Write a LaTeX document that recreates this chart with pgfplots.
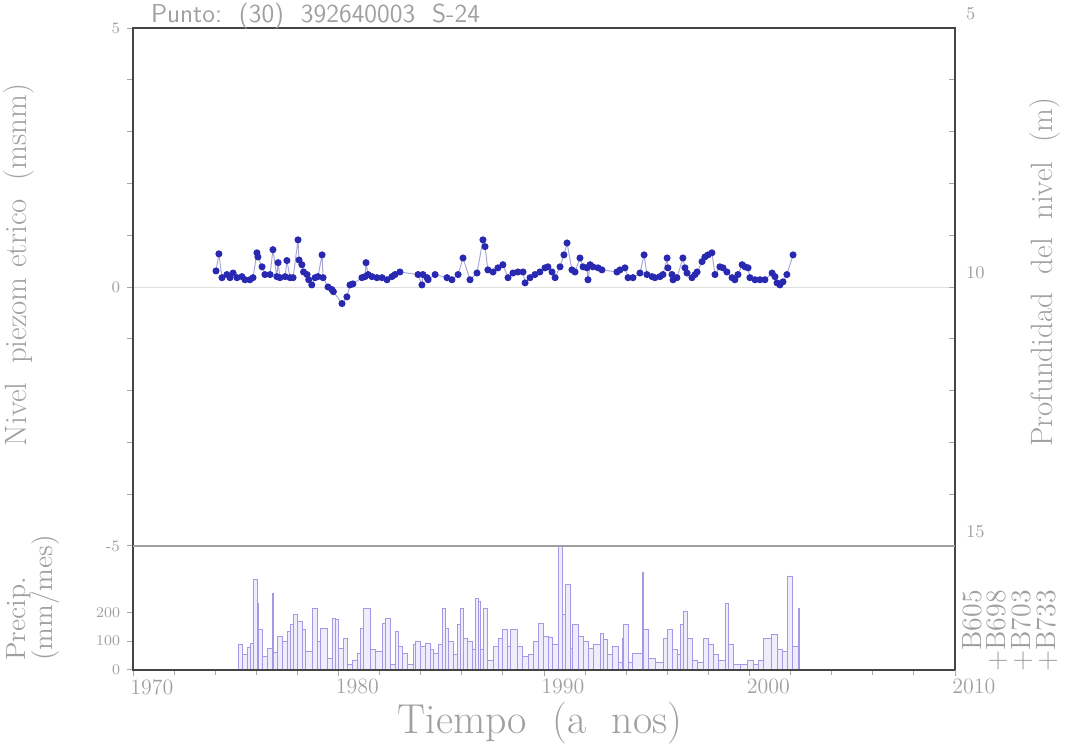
\documentclass[border=0pt]{standalone}
\usepackage{fontspec}
\usepackage{pgfplots}
\usepackage{pgfplotstable}
\pgfplotsset{compat=1.18}
\definecolor{framec}{HTML}{454545}
\definecolor{txt}{HTML}{A0A0A0}
\definecolor{dot}{HTML}{2828B0}
\definecolor{lnk}{HTML}{A8A8D8}
\definecolor{rain}{HTML}{9A8EE4}

\pgfplotstableread{
year lvl
1974.04 0.31
1974.18 0.64
1974.33 0.18
1974.57 0.24
1974.72 0.18
1974.87 0.27
1975.06 0.18
1975.30 0.20
1975.45 0.14
1975.69 0.14
1975.84 0.18
1976.03 0.66
1976.08 0.58
1976.28 0.39
1976.42 0.24
1976.67 0.24
1976.81 0.72
1977.00 0.20
1977.06 0.47
1977.15 0.18
1977.40 0.20
1977.49 0.51
1977.64 0.18
1977.79 0.18
1978.03 0.91
1978.08 0.52
1978.22 0.43
1978.30 0.29
1978.47 0.24
1978.55 0.14
1978.70 0.04
1978.86 0.18
1979.00 0.20
1979.20 0.62
1979.25 0.18
1979.49 0.00
1979.68 -0.05
1979.75 -0.09
1980.17 -0.32
1980.41 -0.19
1980.56 0.04
1980.70 0.06
1981.14 0.18
1981.29 0.20
1981.34 0.47
1981.44 0.24
1981.63 0.20
1981.87 0.18
1982.12 0.18
1982.36 0.14
1982.60 0.20
1982.75 0.24
1982.99 0.29
1983.87 0.24
1984.06 0.04
1984.11 0.24
1984.31 0.18
1984.36 0.14
1984.70 0.24
1985.28 0.18
1985.52 0.14
1985.82 0.24
1986.06 0.56
1986.40 0.14
1986.74 0.27
1987.03 0.91
1987.13 0.78
1987.27 0.33
1987.52 0.29
1987.76 0.37
1988.00 0.43
1988.25 0.18
1988.49 0.27
1988.73 0.29
1988.98 0.29
1989.08 0.08
1989.32 0.18
1989.56 0.24
1989.80 0.29
1990.05 0.37
1990.19 0.39
1990.39 0.29
1990.54 0.18
1990.78 0.39
1990.97 0.62
1991.12 0.85
1991.36 0.33
1991.51 0.29
1991.75 0.56
1991.90 0.39
1992.09 0.37
1992.14 0.14
1992.24 0.43
1992.38 0.39
1992.63 0.37
1992.82 0.33
1993.55 0.29
1993.70 0.33
1993.94 0.37
1994.09 0.18
1994.33 0.18
1994.67 0.27
1994.87 0.62
1995.01 0.24
1995.26 0.20
1995.40 0.18
1995.64 0.20
1995.79 0.24
1995.99 0.56
1996.03 0.37
1996.23 0.24
1996.28 0.14
1996.47 0.18
1996.76 0.56
1996.86 0.37
1996.96 0.27
1997.20 0.18
1997.35 0.24
1997.45 0.29
1997.69 0.49
1997.83 0.58
1997.98 0.62
1998.17 0.66
1998.32 0.24
1998.56 0.39
1998.71 0.37
1998.90 0.29
1999.15 0.18
1999.29 0.14
1999.44 0.24
1999.64 0.43
1999.78 0.39
1999.93 0.37
2000.02 0.18
2000.27 0.14
2000.51 0.14
2000.75 0.14
2001.10 0.27
2001.24 0.20
2001.34 0.08
2001.48 0.04
2001.63 0.10
2001.82 0.24
2002.12 0.62
}\levels

\pgfplotstableread{
year mm
1975.11 88
1975.30 53
1975.55 80
1975.69 91
1975.84 315
1976.03 232
1976.08 140
1976.28 46
1976.52 74
1976.76 267
1976.81 60
1977.01 116
1977.25 98
1977.49 133
1977.64 158
1977.79 193
1977.98 168
1978.22 140
1978.37 63
1978.71 214
1978.95 98
1979.10 144
1979.44 39
1979.68 179
1979.83 175
1979.98 74
1980.22 109
1980.41 21
1980.66 35
1980.90 56
1981.05 144
1981.19 214
1981.53 70
1981.78 63
1982.12 161
1982.26 179
1982.51 18
1982.75 133
1982.90 81
1983.09 56
1983.33 21
1983.63 88
1983.72 98
1983.97 81
1984.21 91
1984.45 70
1984.60 56
1984.84 88
1985.04 214
1985.18 144
1985.33 98
1985.57 53
1985.77 158
1985.91 214
1986.06 109
1986.25 98
1986.50 70
1986.64 249
1986.79 239
1986.89 70
1987.03 214
1987.27 35
1987.52 81
1987.76 109
1987.96 140
1988.20 81
1988.35 140
1988.69 81
1988.93 46
1989.22 53
1989.46 98
1989.71 161
1989.95 116
1990.19 112
1990.39 88
1990.68 428
1990.88 193
1991.02 298
1991.27 74
1991.36 158
1991.65 116
1991.90 98
1992.14 74
1992.38 88
1992.73 126
1992.87 105
1993.07 53
1993.31 81
1993.60 28
1993.80 109
1993.84 158
1994.09 28
1994.28 56
1994.77 337
1994.82 140
1995.06 39
1995.40 28
1995.79 109
1995.99 140
1996.23 70
1996.47 53
1996.62 158
1996.76 203
1996.96 109
1997.20 35
1997.45 28
1997.74 109
1997.98 88
1998.22 53
1998.47 35
1998.81 232
1998.95 88
1999.20 21
1999.54 18
1999.88 35
2000.17 21
2000.41 35
2000.66 109
2001.09 123
2001.34 70
2001.58 63
2001.82 326
2002.07 81
2002.36 214
2002.45 0
}\rain

\begin{document}
\begin{tikzpicture}
\useasboundingbox (0bp,0bp) rectangle (535bp,376bp);

% ---------- upper panel: level ----------
\begin{axis}[at={(66.5bp,103bp)}, anchor=south west, scale only axis,
  width=411bp, height=259bp,
  xmin=1970, xmax=2010, ymin=-5, ymax=5,
  axis line style={draw=none},
  xtick=\empty,
  ytick={-5,0,5}, minor ytick={-4,-3,-2,-1,1,2,3,4},
  ytick pos=left, tick align=outside,
  major tick length=3bp, minor tick length=3bp,
  every tick/.style={draw=gray!70, line width=0.5bp},
  /pgf/number format/assume math mode=true,
  yticklabel style={font=\fontsize{8}{9}\selectfont, text=txt},
  clip=false]
  \draw[gray!25, line width=0.5bp] (axis cs:1970,0) -- (axis cs:2010,0);
  \addplot[color=lnk, line width=0.5bp, mark=*, mark size=1.5bp,
    mark options={draw=dot, fill=dot}] table[x=year, y=lvl] {\levels};
\end{axis}

% ---------- right axis: depth ----------
\begin{axis}[at={(66.5bp,103bp)}, anchor=south west, scale only axis,
  width=411bp, height=259bp,
  xmin=1970, xmax=2010, ymin=5, ymax=15, y dir=reverse,
  axis x line=none, axis y line*=right,
  axis line style={draw=none},
  ytick={5,10,15}, minor ytick={6,7,8,9,11,12,13,14},
  tick align=inside,
  major tick length=3bp, minor tick length=3bp,
  every tick/.style={draw=gray!70, line width=0.5bp},
  /pgf/number format/assume math mode=true,
  yticklabel style={font=\fontsize{9}{10}\selectfont, text=txt, yshift=7bp, xshift=2bp}]
  \addplot[draw=none] coordinates {(1970,10)};
\end{axis}

% ---------- lower panel: precipitation ----------
\begin{axis}[at={(66.5bp,41bp)}, anchor=south west, scale only axis,
  width=411bp, height=62bp,
  xmin=1970, xmax=2010, ymin=0, ymax=430,
  axis line style={draw=none},
  xtick={1970,1980,1990,2000,2010},
  minor xtick={1972,1974,1976,1978,1982,1984,1986,1988,1992,1994,1996,1998,2002,2004,2006,2008},
  ytick={0,100,200},
  tick pos=left, tick align=outside,
  major tick length=3bp, minor tick length=2.5bp,
  every tick/.style={draw=gray!70, line width=0.5bp},
  /pgf/number format/assume math mode=true,
  /pgf/number format/1000 sep={},
  xticklabel style={font=\fontsize{11}{12}\selectfont, text=txt, anchor=north west, xshift=-3bp, inner sep=1.5bp},
  yticklabel style={font=\fontsize{7.5}{8}\selectfont, text=txt},
  clip=false]
  \addplot[ybar interval, draw=rain!90, fill=rain!16, line width=0.4bp]
    table[x=year, y=mm] {\rain};
\end{axis}

% ---------- frame ----------
\draw[framec, line width=1.1bp] (66.5bp,103bp) -- (66.5bp,362bp) -- (477.5bp,362bp) -- (477.5bp,41bp);
\draw[framec, line width=1.1bp] (66.5bp,103bp) -- (66.5bp,41bp) -- (477.5bp,41bp);
\draw[gray!75, line width=0.7bp] (66.5bp,103bp) -- (477.5bp,103bp);

% ---------- texts ----------
\node[anchor=west, text=txt, font=\sffamily\fontsize{13}{14}\selectfont] at (72bp,368bp) {Punto:\ \ (30)\ \ 392640003\ \ S-24};
\node[rotate=90, text=txt, font=\fontsize{15.5}{17}\selectfont] at (9.5bp,243.5bp) {Nivel\ \ piezom\ etrico\ \ (msnm)};
\node[rotate=90, anchor=west, text=txt, font=\fontsize{14}{16}\selectfont] at (9.5bp,42bp) {Precip.};
\node[rotate=90, anchor=west, text=txt, font=\fontsize{14}{16}\selectfont] at (23bp,42bp) {(mm/mes)};
\node[rotate=90, text=txt, font=\fontsize{15.5}{17}\selectfont] at (522.5bp,240bp) {Profundidad\ \ del\ \ nivel\ \ (m)};
\node[text=txt, inner sep=0pt, font=\fontsize{21}{23}\selectfont] at (270bp,14.5bp) {Tiempo\ \ (a\ \ nos)};
\node[rotate=90, anchor=east, text=txt, font=\fontsize{14}{15}\selectfont] at (486bp,84.5bp) {B605};
\node[rotate=90, anchor=east, text=txt, font=\fontsize{14}{15}\selectfont] at (498.5bp,84.5bp) {+B698};
\node[rotate=90, anchor=east, text=txt, font=\fontsize{14}{15}\selectfont] at (511bp,84.5bp) {+B703};
\node[rotate=90, anchor=east, text=txt, font=\fontsize{14}{15}\selectfont] at (523.5bp,84.5bp) {+B733};
\end{tikzpicture}
\end{document}
